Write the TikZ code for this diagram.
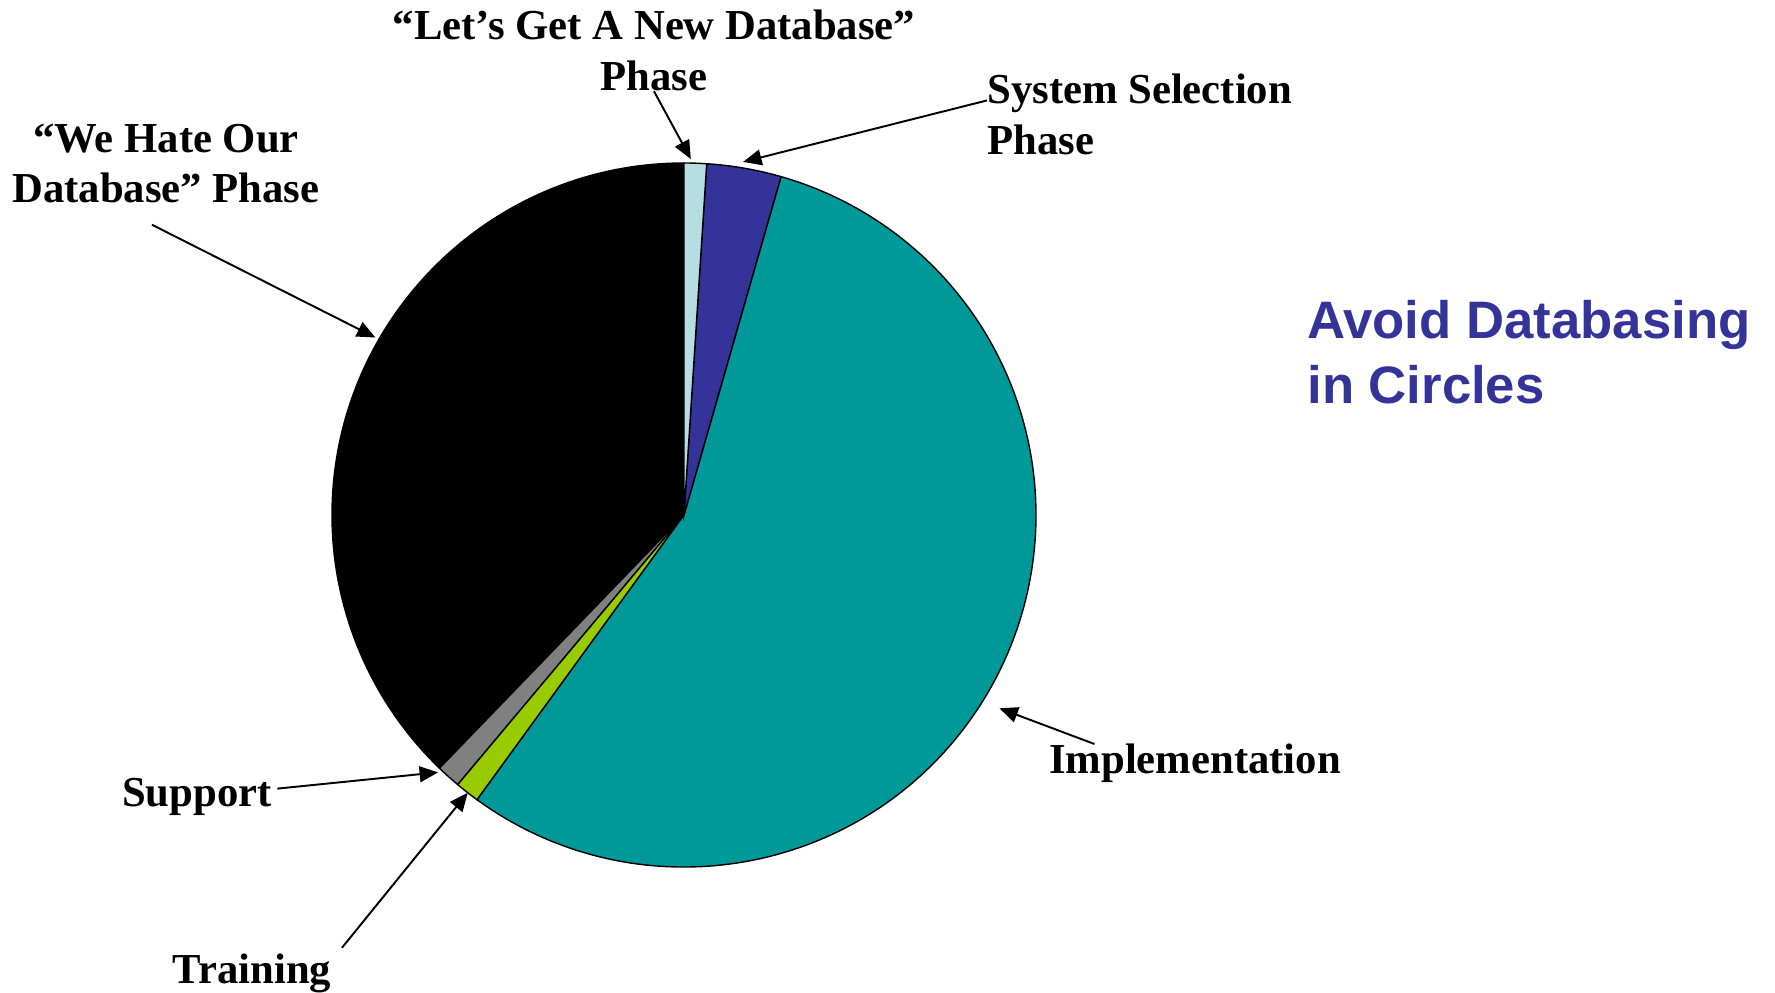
\documentclass[tikz,border=0pt]{standalone}
\usepackage{fontspec}
\setmainfont{Liberation Serif}
\newfontfamily\titlefont{Liberation Sans}
\usepackage{tikz}
\usetikzlibrary{arrows.meta}

\definecolor{hateblack}{RGB}{0,0,0}
\definecolor{supgray}{RGB}{128,128,128}
\definecolor{traingreen}{RGB}{153,204,0}
\definecolor{implteal}{RGB}{0,153,153}
\definecolor{selblue}{RGB}{51,51,153}
\definecolor{newlight}{RGB}{182,222,226}

\begin{document}
\begin{tikzpicture}[x=0.02cm,y=0.02cm,
  lbl/.style={inner sep=0pt,align=center,font=\fontsize{24.3}{28.9}\selectfont\bfseries},
  callout/.style={-{Triangle[length=10.5pt,width=9pt]},line width=1.1pt}]
\useasboundingbox (-684,-478) rectangle (1091,515);

\foreach \a/\b/\col in {90/226/hateblack,226/230/supgray,230/234/traingreen,
    234/434/implteal,434/446.3/selblue,446.3/450/newlight}
  \filldraw[fill=\col,draw=black,line width=0.8pt] (0,0) -- (\a:352)
    arc[start angle=\a,end angle=\b,radius=352] -- cycle;

\coordinate (newtip)   at (88.9:356);
\coordinate (seltip)   at (80.5:358);
\coordinate (hatetip)  at (150.1:356);
\coordinate (suptip)   at (226.3:356);
\coordinate (traintip) at (232.1:352);
\coordinate (impltip)  at (-31.5:370);

\node[lbl] (newdb) at (-30,464.5) {“Let’s Get A New Database”\\Phase};
\node[lbl,anchor=west,align=left] (syssel) at (303,400.5) {System Selection\\Phase};
\node[lbl] (hate) at (-518,351.5) {“We Hate Our\\Database” Phase};
\node[lbl,anchor=base] (impl) at (511,-259) {Implementation};
\node[lbl,anchor=base] (support) at (-487,-292) {Support};
\node[lbl,anchor=base] (training) at (-432,-468) {Training};
\node[anchor=west,align=left,inner sep=0pt,text=selblue,
  font=\titlefont\fontsize{30}{36.9}\selectfont\bfseries] (title) at (623,162.5)
  {Avoid Databasing\\in Circles};

\draw[callout] (newdb.south) -- (newtip);
\draw[callout] ([yshift=8pt]syssel.west) -- (seltip);
\draw[callout] ([xshift=-8pt,yshift=-12pt]hate.south) -- (hatetip);
\draw[callout] ([xshift=3pt,yshift=5pt]support.east) -- (suptip);
\draw[callout] ([xshift=6pt,yshift=3pt]training.north east) -- (traintip);
\draw[callout] ([xshift=26pt]impl.north west) -- (impltip);
\end{tikzpicture}
\end{document}
